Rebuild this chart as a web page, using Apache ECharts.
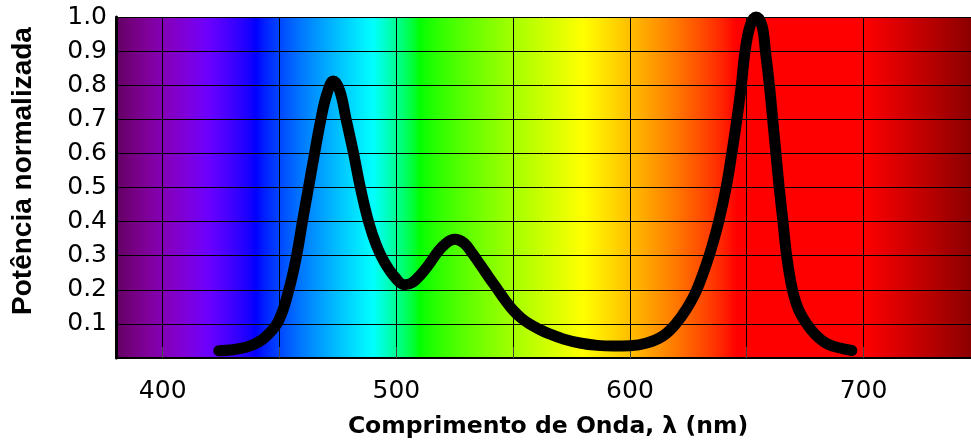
<!DOCTYPE html>
<html>
<head>
<meta charset="utf-8">
<script src="https://cdn.jsdelivr.net/npm/echarts@6/dist/echarts.min.js"></script>
<style>
html,body{margin:0;padding:0;background:#fff;}
#chart{width:971px;height:444px;}
</style>
</head>
<body>
<div id="chart"></div>
<script>
// ---- data ----
const wavelength = [424, 430, 436, 440.5, 444.5, 449.6, 454, 457.3, 459.8, 462.4, 465, 467.7, 470.3, 473, 475.7, 478.5, 481.7, 484.6, 488.1, 491.5, 495, 499.5, 503.5, 507, 510.5, 514, 517.5, 521, 525, 529, 532.5, 536, 539.5, 543, 546.5, 550, 553.5, 557, 561, 565, 571.5, 578.6, 586, 593, 600, 607.2, 614.2, 619.6, 624.3, 628.6, 633.9, 638, 641.2, 643.6, 645.8, 647.7, 649.3, 651.5, 654, 656.5, 658, 659.7, 661.1, 662.5, 663.9, 665.5, 667.1, 669.4, 672, 675.7, 679.5, 684.3, 689.5, 695];
const power = [0.021, 0.024, 0.032, 0.045, 0.065, 0.109, 0.2, 0.3, 0.4, 0.5, 0.6, 0.7, 0.775, 0.812, 0.785, 0.7, 0.6, 0.5, 0.4, 0.33, 0.28, 0.236, 0.215, 0.222, 0.245, 0.275, 0.309, 0.335, 0.348, 0.337, 0.307, 0.273, 0.238, 0.204, 0.17, 0.14, 0.117, 0.1, 0.085, 0.072, 0.056, 0.044, 0.037, 0.035, 0.036, 0.044, 0.065, 0.1, 0.145, 0.2, 0.3, 0.4, 0.5, 0.6, 0.7, 0.8, 0.9, 0.975, 1.0, 0.975, 0.9, 0.8, 0.7, 0.6, 0.5, 0.4, 0.3, 0.205, 0.145, 0.1, 0.068, 0.042, 0.03, 0.022];
const xLabelValues = [400, 500, 600, 700];
const xGridValues = [400, 450, 500, 550, 600, 650, 700];
const yTickLabels = ['', '0.1', '0.2', '0.3', '0.4', '0.5', '0.6', '0.7', '0.8', '0.9', '1.0'];
const xMin = 380, xMax = 746;
const xTitle = 'Comprimento de Onda, λ (nm)';
const yTitle = 'Potência normalizada';

// ---- background spectrum (style only) ----
function specColor(l) {
  let r = 0, g = 0, b = 0;
  if (l < 440) { r = (440 - l) / 60; b = 1; }
  else if (l < 490) { g = (l - 440) / 50; b = 1; }
  else if (l < 510) { g = 1; b = (510 - l) / 20; }
  else if (l < 580) { r = (l - 510) / 70; g = 1; }
  else if (l < 645) { r = 1; g = (645 - l) / 65; }
  else { r = 1; }
  let f = 1;
  if (l < 420) f = 0.3 + 0.7 * (l - 380) / 40;
  const c = v => Math.round(255 * Math.pow(Math.max(0, v * f), 0.8));
  let R = c(r), G = c(g), B = c(b);
  if (l > 700) { R = Math.round(255 - (l - 700) / (xMax - 700) * 115); G = 0; B = 0; }
  return 'rgb(' + R + ',' + G + ',' + B + ')';
}
const stops = [];
for (let l = xMin; l <= xMax; l += 2) stops.push({ offset: (l - xMin) / (xMax - xMin), color: specColor(l) });
stops.push({ offset: 1, color: specColor(xMax) });

const seriesData = wavelength.map((w, i) => [w, power[i]]);

const chart = echarts.init(document.getElementById('chart'));
chart.setOption({
  animation: false,
  grid: {
    left: 116, right: 0, top: 17, bottom: 85,
    show: true, borderWidth: 0,
    backgroundColor: new echarts.graphic.LinearGradient(0, 0, 1, 0, stops)
  },
  xAxis: {
    type: 'value', min: xMin, max: xMax,
    axisLine: { show: true, onZero: false, lineStyle: { color: '#000', width: 2 } },
    axisTick: { show: true, inside: true, length: 11, customValues: xGridValues, lineStyle: { color: '#444', width: 1 } },
    axisLabel: { customValues: xLabelValues, margin: 21, color: '#000', fontFamily: 'DejaVu Sans', fontSize: 25 },
    splitLine: { show: true, lineStyle: { color: '#000', width: 1 } },
    name: xTitle, nameLocation: 'middle', nameGap: 57,
    nameTextStyle: { color: '#000', fontFamily: 'DejaVu Sans', fontWeight: 'bold', fontSize: 23.5, padding: [0, 0, 0, 9] }
  },
  yAxis: {
    type: 'value', min: 0, max: 1, interval: 0.1,
    axisLine: { show: true, lineStyle: { color: '#000', width: 3 } },
    axisTick: { show: false },
    axisLabel: {
      margin: 9, color: '#000', fontFamily: 'DejaVu Sans', fontSize: 25,
      formatter: v => yTickLabels[Math.round(v * 10)]
    },
    splitLine: { show: true, lineStyle: { color: '#000', width: 1 } },
    name: yTitle, nameLocation: 'middle', nameGap: 79,
    nameTextStyle: { color: '#000', fontFamily: 'Liberation Sans', fontWeight: 'bold', fontSize: 28, padding: [0, 0, 0, 33] }
  },
  series: [{
    type: 'line', data: seriesData, smooth: 0.4, symbol: 'none', clip: false,
    lineStyle: { color: '#000', width: 11, cap: 'round', join: 'round' }
  }]
});
</script>
</body>
</html>
